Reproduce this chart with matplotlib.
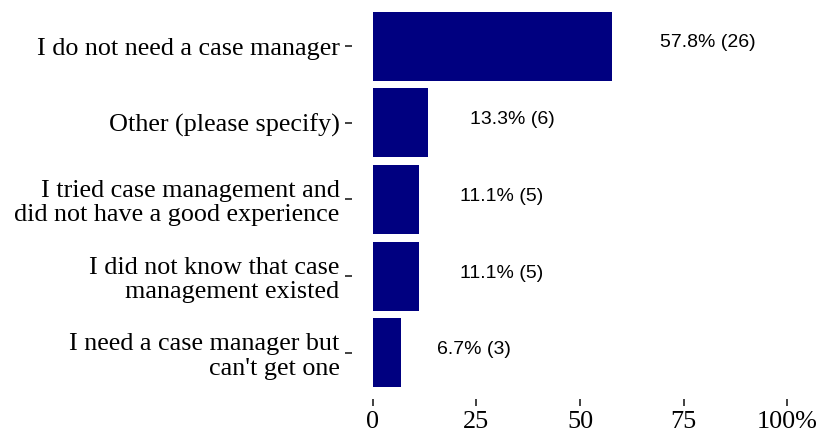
import matplotlib
matplotlib.use("Agg")
import matplotlib.pyplot as plt

categories = [
    "I need a case manager but\ncan't get one",
    "I did not know that case\nmanagement existed",
    "I tried case management and\ndid not have a good experience",
    "Other (please specify)",
    "I do not need a case manager",
]
percents = [6.7, 11.1, 11.1, 13.3, 57.8]
counts = [3, 5, 5, 6, 26]
xticks = [0, 25, 50, 75, 100]
xtick_labels = ["0", "25", "50", "75", "100%"]

fig = plt.figure(figsize=(8.21, 4.34), dpi=100)
ax = fig.add_axes([352 / 821, 1 - 399 / 434, 456 / 821, 399 / 434])

ypos = list(range(len(categories)))
ax.barh(ypos, percents, height=0.9, color="#000080")

ax.set_xlim(-5, 105)
ax.set_ylim(-0.6, len(categories) - 0.4)
ax.set_xticks(xticks)
ax.set_xticklabels(xtick_labels)
ax.set_yticks(ypos)
ax.set_yticklabels(categories)

for lab in ax.get_xticklabels() + ax.get_yticklabels():
    lab.set_fontfamily("Liberation Serif")
    lab.set_fontsize(18.8)
    lab.set_color("black")
for lab in ax.get_yticklabels():
    lab.set_linespacing(1.12)

ax.tick_params(axis="both", length=5, width=1.3, color="#333333", pad=4)
for s in ax.spines.values():
    s.set_visible(False)

# value labels sit half their own width past the bar end, a bit above centre
texts = []
for y, p, n in zip(ypos, percents, counts):
    t = ax.text(p, y + 0.04, f"{p:.1f}% ({n})", ha="left", va="center",
                fontfamily="Liberation Sans", fontsize=14, color="black")
    texts.append(t)

fig.canvas.draw()
renderer = fig.canvas.get_renderer()
inv = ax.transData.inverted()
for t, p, y in zip(texts, percents, ypos):
    bb = t.get_window_extent(renderer)
    w = inv.transform((bb.x1, 0))[0] - inv.transform((bb.x0, 0))[0]
    t.set_x(p + w / 2)

fig.savefig("out.png", dpi=100)
